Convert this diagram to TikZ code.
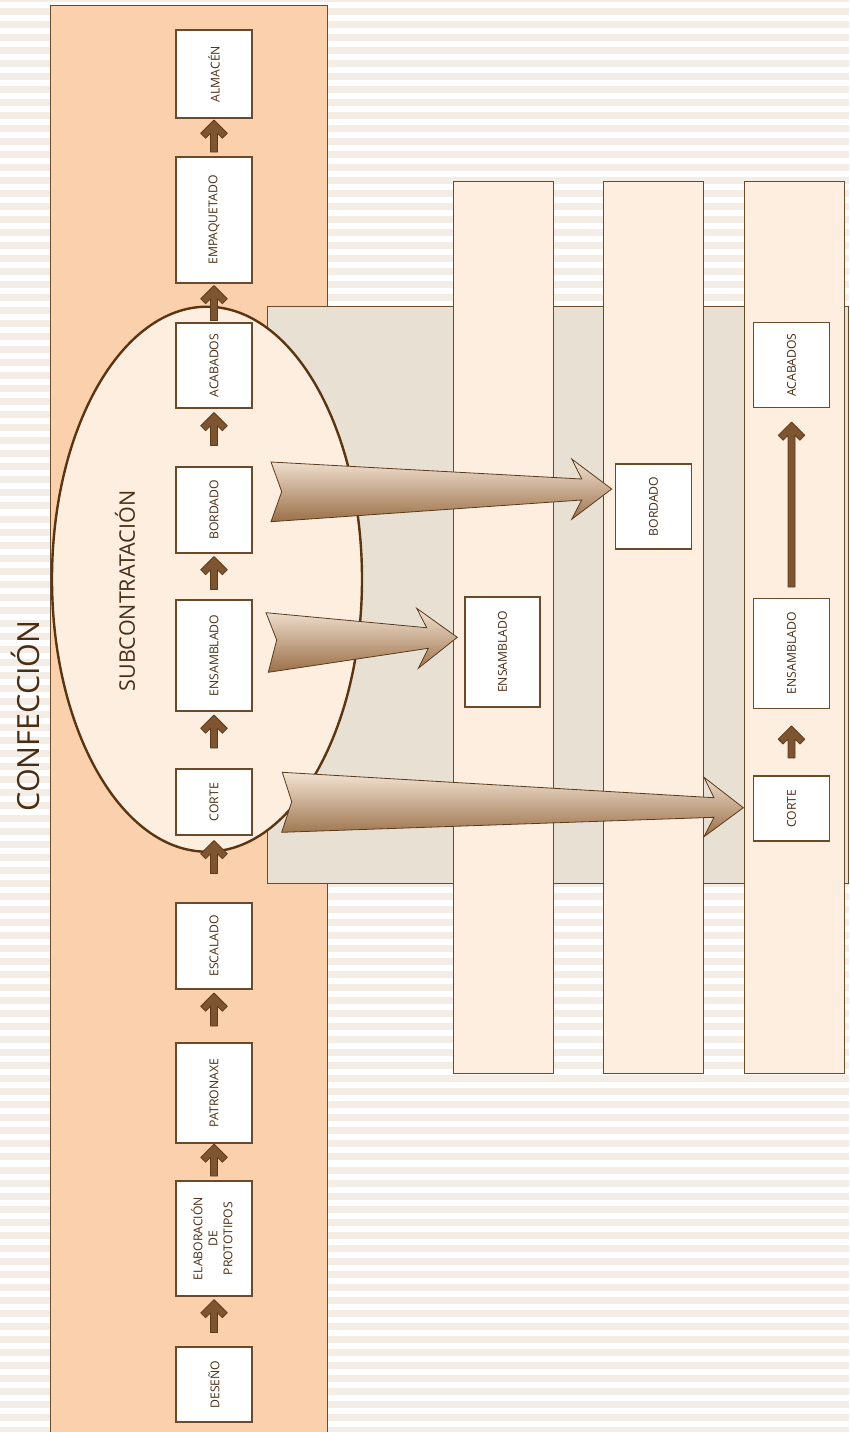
\documentclass[tikz,border=0pt]{standalone}
\usepackage{fontspec}
\setmainfont{Open Sans}
\usetikzlibrary{calc}
\definecolor{stripec}{HTML}{F4EDE6}
\definecolor{peach}{HTML}{FBD0AD}
\definecolor{cream}{HTML}{FDEEE0}
\definecolor{grayp}{HTML}{E8E0D3}
\definecolor{linec}{HTML}{6B4A2C}
\definecolor{ellc}{HTML}{5B3512}
\definecolor{arrfill}{HTML}{7E5530}
\definecolor{arrline}{HTML}{5B3A1C}
\definecolor{txtc}{HTML}{4A2E14}
\definecolor{gtop}{HTML}{F3E3D3}
\definecolor{gmid}{HTML}{C9A587}
\definecolor{gbot}{HTML}{9A7048}
\tikzset{
  panel/.style={draw=linec, line width=0.9pt},
  boxn/.style={draw=linec, fill=white, line width=1.1pt, inner sep=0pt,
    minimum width=76pt, text=txtc, font=\fontsize{12.2}{15}\selectfont},
  arrsty/.style={fill=arrfill, draw=arrline, line width=0.8pt, line join=round},
  bigarr/.style={draw=arrline, line width=0.8pt, line join=miter,
    top color=gtop, middle color=gmid, bottom color=gbot},
}
% #1 upper node, #2 gap below it, #3 length
\newcommand\smallarr[3]{%
  \path[arrsty] let \p1=(#1.south) in
   (\x1,\y1-#2) -- (\x1+13.3pt,\y1-#2-13.3pt) -- (\x1+8.4pt,\y1-#2-18.2pt)
   -- (\x1+3.5pt,\y1-#2-13.3pt) -- (\x1+3.5pt,\y1-#2-#3) -- (\x1-3.5pt,\y1-#2-#3)
   -- (\x1-3.5pt,\y1-#2-13.3pt) -- (\x1-8.4pt,\y1-#2-18.2pt) -- (\x1-13.3pt,\y1-#2-13.3pt) -- cycle;
}
\newcommand\rtext[1]{\rotatebox{90}{#1}}
\begin{document}
\begin{tikzpicture}[x=1pt,y=-1pt]
\useasboundingbox (0,0) rectangle (849,1432);
\clip (0,0) rectangle (849,1432);
\fill[white] (0,0) rectangle (849,1432);
% stripes
\foreach \k in {0,...,110} {
  \fill[stripec] (0,{-5.3+13.02*\k}) rectangle (849,{1.7+13.02*\k});
}
% panels
\draw[panel, fill=peach] (50.7,5.3) rectangle (327,1445);
\draw[panel, fill=grayp] (267,306) rectangle (848,883);
% subcontracting ellipse
\draw[ellc, line width=2.4pt, fill=cream] (207,579.2) ellipse [x radius=155pt, y radius=272.5pt];
% columns
\draw[panel, fill=cream] (453,181) rectangle (553,1073);
\draw[panel, fill=cream] (603,181) rectangle (703,1073);
\draw[panel, fill=cream] (744,181) rectangle (844,1073);
% titles
\node[text=txtc, font=\fontsize{30.5}{31}\selectfont, rotate=90, inner sep=0pt] (conf) at (25,716) {CONFECCIÓN};
\node[text=txtc, font=\fontsize{21.5}{22}\selectfont, rotate=90, inner sep=0pt] (subc) at (125,591) {SUBCONTRATACIÓN};
% left column boxes
\node[boxn, minimum height=88pt] (alm) at (214,74) {\rtext{ALMACÉN}};
\node[boxn, minimum height=126pt] (emp) at (214,220) {\rtext{EMPAQUETADO}};
\node[boxn, minimum height=85pt] (aca) at (214,365.5) {\rtext{ACABADOS}};
\node[boxn, minimum height=86pt] (bor) at (214,510) {\rtext{BORDADO}};
\node[boxn, minimum height=111pt] (ens) at (214,655.5) {\rtext{ENSAMBLADO}};
\node[boxn, minimum height=66pt] (cor) at (214,802) {\rtext{CORTE}};
\node[boxn, minimum height=86pt] (esc) at (214,946) {\rtext{ESCALADO}};
\node[boxn, minimum height=100pt] (pat) at (214,1093) {\rtext{PATRONAXE}};
\node[boxn, minimum height=115pt] (ela) at (214,1238.5) {\rtext{\begin{tabular}{@{}c@{}}ELABORACIÓN\\DE\\PROTOTIPOS\end{tabular}}};
\node[boxn, minimum height=75pt] (des) at (214,1384.5) {\rtext{DESEÑO}};
% right boxes
\node[boxn, minimum width=75pt, minimum height=110pt] (ens1) at (502.5,652) {\rtext{ENSAMBLADO}};
\node[boxn, minimum height=85pt] (bor2) at (653.5,506.5) {\rtext{BORDADO}};
\node[boxn, minimum height=85pt] (aca3) at (791.5,365) {\rtext{ACABADOS}};
\node[boxn, minimum height=110pt] (ens3) at (791.5,653.3) {\rtext{ENSAMBLADO}};
\node[boxn, minimum height=65pt] (cor3) at (791.5,808.5) {\rtext{CORTE}};
% small arrows, left column
\smallarr{alm}{1.5pt}{32pt}
\smallarr{emp}{2pt}{35pt}
\smallarr{aca}{4pt}{33pt}
\smallarr{bor}{3pt}{33pt}
\smallarr{ens}{3.5pt}{33pt}
\smallarr{cor}{5pt}{33pt}
\smallarr{esc}{3.5pt}{33pt}
\smallarr{pat}{0.5pt}{32pt}
\smallarr{ela}{3pt}{33pt}
% column 3 arrows
\smallarr{aca3}{14pt}{165pt}
\smallarr{ens3}{17pt}{32pt}
% big arrows
\path[bigarr] (271,462) -- (581.7,479) -- (571.7,459) -- (611.7,489) -- (571.7,519.3) -- (581.7,500) -- (271,521.7) -- (281.7,491.7) -- cycle;
\path[bigarr] (266,612.7) -- (426.7,627.7) -- (416.7,608.3) -- (457.3,637.3) -- (418.3,668.3) -- (428.3,648.3) -- (268.3,672.3) -- (276.7,640) -- cycle;
\path[bigarr] (282.3,772.3) -- (714,797.7) -- (704,777.3) -- (743.3,807.7) -- (704,836.7) -- (714,817.3) -- (281.7,832.3) -- (291.7,801.7) -- cycle;
\end{tikzpicture}
\end{document}
